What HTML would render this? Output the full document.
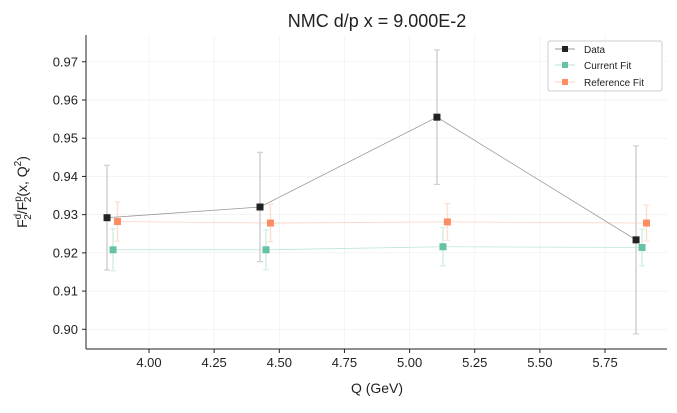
<!DOCTYPE html>
<html><head><meta charset="utf-8"><style>
body{margin:0;background:#fff;}
svg{font-family:"Liberation Sans","DejaVu Sans",sans-serif;}
</style></head><body>
<svg id="chart" width="677" height="408">
<text x="377" y="27" font-size="18" text-anchor="middle" fill="#222">NMC d/p x = 9.000E-2</text>
<g id="grid"></g>
<g id="series"></g>
<g id="axes"></g>
<text x="377" y="393" font-size="14" text-anchor="middle" fill="#222">Q (GeV)</text>
<text transform="translate(27,192) rotate(-90)" font-size="14" text-anchor="middle" fill="#222">F<tspan font-size="10" dy="-6">d</tspan><tspan font-size="10" dy="10" dx="-6">2</tspan><tspan dy="-4">/F</tspan><tspan font-size="10" dy="-6">p</tspan><tspan font-size="10" dy="10" dx="-6">2</tspan><tspan dy="-4">(x, Q</tspan><tspan font-size="10" dy="-6">2</tspan><tspan dy="6">)</tspan></text>
<g>
<rect x="548" y="41" width="114" height="50" fill="#fff" stroke="#ccc" rx="2"/>
<line x1="555" y1="49" x2="575" y2="49" stroke="#999" stroke-width="1"/><rect x="562" y="46" width="6" height="6" fill="#222"/>
<text x="584" y="53" font-size="10" fill="#222">Data</text>
<line x1="555" y1="65" x2="575" y2="65" stroke="#bde6d8" stroke-width="1"/><rect x="562" y="62" width="6" height="6" fill="#66c2a5"/>
<text x="584" y="69" font-size="10" fill="#222">Current Fit</text>
<line x1="555" y1="82" x2="575" y2="82" stroke="#fcd3c2" stroke-width="1"/><rect x="562" y="79" width="6" height="6" fill="#fc8d62"/>
<text x="584" y="86" font-size="10" fill="#222">Reference Fit</text>
</g>
</svg>
<script>
const qValues=[3.839,4.426,5.105,5.869];
const dataVals=[0.9292,0.9320,0.9555,0.9234];
const dataErr=[0.0137,0.0143,0.0176,0.0246];
const curVals=[0.9208,0.9208,0.9216,0.9214];
const curErr=[0.0055,0.0052,0.0050,0.0048];
const refVals=[0.9282,0.9278,0.9281,0.9278];
const refErr=[0.0051,0.0049,0.0048,0.0047];
const xTicks=[4.00,4.25,4.50,4.75,5.00,5.25,5.50,5.75];
const yTicks=[0.90,0.91,0.92,0.93,0.94,0.95,0.96,0.97];
const L=86,R=667,T=35,B=349;
const xs=q=>149+(q-4)*260.6;
const ys=v=>329.3-(v-0.90)*3822;
const NS="http://www.w3.org/2000/svg";
function mk(t,a,p){const e=document.createElementNS(NS,t);for(const k in a)e.setAttribute(k,a[k]);p.appendChild(e);return e;}
const grid=document.getElementById('grid'),axes=document.getElementById('axes'),ser=document.getElementById('series');
xTicks.forEach(t=>{const x=xs(t);
 const g=mk('line',{x1:x,x2:x,y1:T,y2:B,stroke:'#eee','stroke-width':0.6},grid);
 
 
 mk('line',{x1:x,x2:x,y1:B,y2:B+4,stroke:'#222'},axes);
 const tx=mk('text',{x:x,y:B+18,'font-size':13,'text-anchor':'middle',fill:'#222'},axes);tx.textContent=t.toFixed(2);
 
 });
yTicks.forEach(t=>{const y=ys(t);
 const g=mk('line',{x1:L,x2:R,y1:y,y2:y,stroke:'#eee','stroke-width':0.6},grid);
 
 
 mk('line',{x1:L-4,x2:L,y1:y,y2:y,stroke:'#222'},axes);
 const tx=mk('text',{x:L-8,y:y+4.5,'font-size':13,'text-anchor':'end',fill:'#222'},axes);tx.textContent=t.toFixed(2);
 
 });
mk('line',{x1:L,x2:L,y1:T,y2:B,stroke:'#222','stroke-width':1},axes);
mk('line',{x1:L,x2:R,y1:B,y2:B,stroke:'#222','stroke-width':1},axes);
function series(vals,errs,off,lc,ec,mc,name){
 const g=mk('g',{},ser);
 
 
 const pts=vals.map((v,i)=>[xs(qValues[i]+off),ys(v)]);
 mk('polyline',{points:pts.map(p=>p.join(',')).join(' '),fill:'none',stroke:lc,'stroke-width':0.8},g);
 vals.forEach((v,i)=>{const x=pts[i][0],y1=ys(v+errs[i]),y2=ys(v-errs[i]);
  mk('line',{x1:x,x2:x,y1:y1,y2:y2,stroke:ec,'stroke-width':1.5},g);
  mk('line',{x1:x-3,x2:x+3,y1:y1,y2:y1,stroke:ec,'stroke-width':1.2},g);
  mk('line',{x1:x-3,x2:x+3,y1:y2,y2:y2,stroke:ec,'stroke-width':1.2},g);
  const m=mk('rect',{x:x-3.5,y:pts[i][1]-3.5,width:7,height:7,fill:mc},g);
  
  });
}
series(refVals,refErr,0.04,'#fcd3c2','#fde0d4','#fc8d62','reference-fit');
series(curVals,curErr,0.023,'#bde6d8','#d3efe5','#66c2a5','current-fit');
series(dataVals,dataErr,0,'#999','#d0d0d0','#222','data');
</script>
</body></html>
